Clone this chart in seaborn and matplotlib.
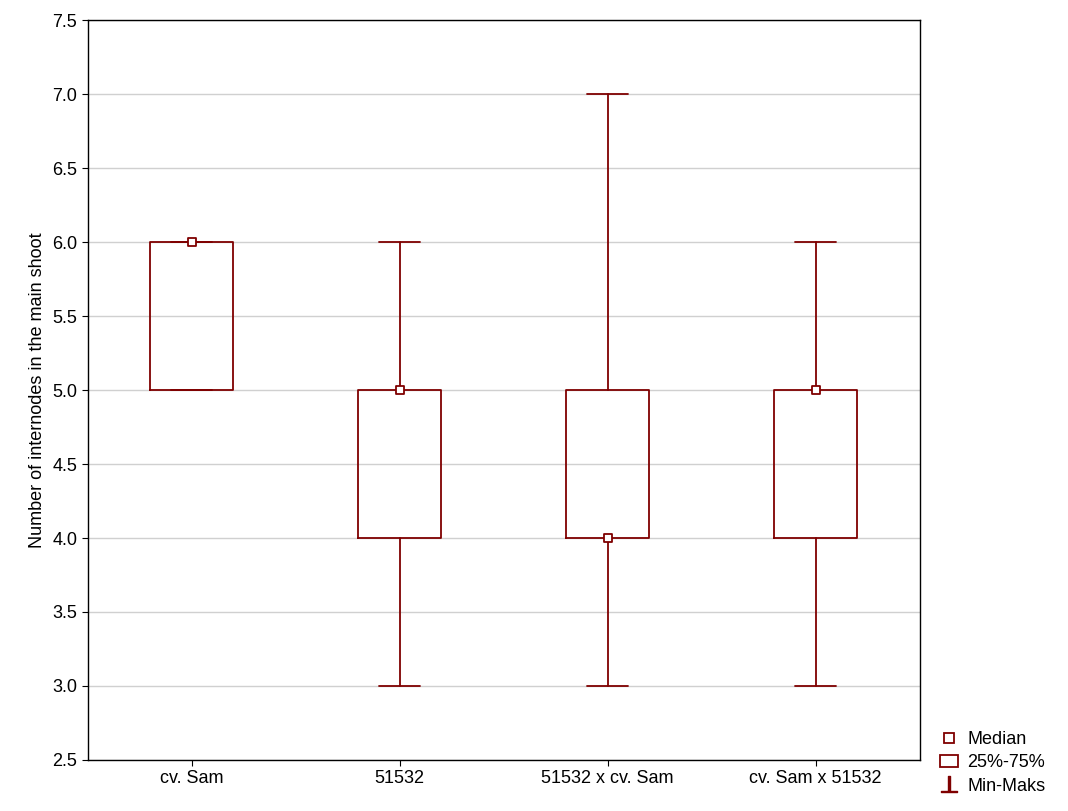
import matplotlib
matplotlib.use("Agg")
import matplotlib.pyplot as plt
import seaborn as sns
from matplotlib.lines import Line2D
from matplotlib.patches import Rectangle

categories = ["cv. Sam", "51532", "51532 x cv. Sam", "cv. Sam x 51532"]
medians = [6.0, 5.0, 4.0, 5.0]
q1 = [5.0, 4.0, 4.0, 4.0]
q3 = [6.0, 5.0, 5.0, 5.0]
mins = [5.0, 3.0, 3.0, 3.0]
maxs = [6.0, 6.0, 7.0, 6.0]

sns.set_style("white")
plt.rcParams['font.family'] = ['Liberation Sans', 'DejaVu Sans']
plt.rcParams['text.color'] = 'black'
plt.rcParams['axes.labelcolor'] = 'black'
col = "#7f0000"

fig = plt.figure(figsize=(10.68, 8.11), dpi=100)
ax = fig.add_axes([0.082, 0.063, 0.779, 0.912])

stats = [dict(med=m, q1=a, q3=b, whislo=lo, whishi=hi, fliers=[], label=c)
         for c, m, a, b, lo, hi in zip(categories, medians, q1, q3, mins, maxs)]
pos = list(range(len(categories)))
ax.bxp(stats, positions=pos, widths=0.4, showcaps=True, capwidths=0.2,
       boxprops=dict(color=col, lw=1.3), whiskerprops=dict(color=col, lw=1.3),
       capprops=dict(color=col, lw=1.3), medianprops=dict(color=col, lw=0, alpha=0))
sns.scatterplot(x=pos, y=medians, ax=ax, marker="s", s=40, facecolor="white",
                edgecolor=col, linewidth=1.3, zorder=5)

ax.set_xlim(-0.5, 3.5)
ax.set_ylim(2.5, 7.5)
ax.set_yticks([2.5 + 0.5 * i for i in range(11)])
ax.set_yticklabels([f"{2.5 + 0.5 * i:.1f}" for i in range(11)], fontsize=13)
ax.set_xticks(pos)
ax.set_xticklabels(categories, fontsize=13)
ax.yaxis.grid(True, color="#d0d0d0", lw=1)
ax.set_axisbelow(True)
for s in ax.spines.values():
    s.set_color("black"); s.set_linewidth(1)
ax.tick_params(direction="out", length=4, colors="black", left=True, bottom=True)
ax.set_ylabel("Number of internodes in the main shoot", fontsize=13, labelpad=4)

handles = [Line2D([], [], marker="s", ls="none", mfc="white", mec=col, ms=7, mew=1.3),
           Rectangle((0, 0), 1, 1, fc="white", ec=col, lw=1.3),
           Line2D([], [], marker="$\u22a5$", ls="none", color=col, ms=12)]
fig.legend(handles, ["Median", "25%-75%", "Min-Maks"], loc="lower left",
           bbox_to_anchor=(0.865, 0.0), frameon=False, fontsize=13,
           handlelength=1.0, handletextpad=0.5, labelspacing=0.35, labelcolor="black")
fig.savefig("out.png", dpi=100)
